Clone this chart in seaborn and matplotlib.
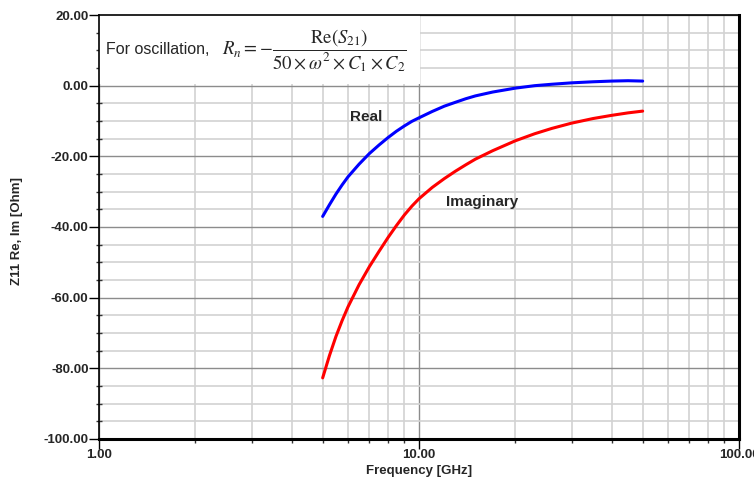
import numpy as np
import pandas as pd
import matplotlib
matplotlib.use("Agg")
import matplotlib.pyplot as plt
from matplotlib.ticker import FixedLocator, MultipleLocator, LogLocator, NullFormatter, FuncFormatter
from matplotlib.patches import Rectangle
import seaborn as sns

# Simulated input impedance of the oscillator vs. frequency
freq_ghz = [5.0, 5.25, 5.5, 5.75, 6.0, 6.5, 7.0, 7.5, 8.0, 8.5, 9.0, 9.5, 10.0, 11.0, 12.0, 13.0,
            14.0, 15.0, 17.0, 20.0, 23.0, 26.0, 30.0, 35.0, 40.0, 45.0, 50.0]
z11_real = [-37.0, -33.7, -30.7, -28.1, -25.8, -22.2, -19.2, -16.8, -14.7, -12.9, -11.4, -10.1, -9.1,
            -7.3, -5.8, -4.7, -3.7, -2.9, -1.8, -0.7, 0.0, 0.4, 0.8, 1.1, 1.3, 1.4, 1.3]
z11_imag = [-82.7, -76.4, -71.0, -66.5, -62.6, -56.3, -51.2, -46.9, -43.0, -39.6, -36.6, -34.1, -32.0,
            -28.8, -26.3, -24.2, -22.4, -20.8, -18.4, -15.6, -13.6, -12.1, -10.6, -9.3, -8.4, -7.7, -7.2]

x_major = [1.0, 10.0, 100.0]
y_major = [20.0, 0.0, -20.0, -40.0, -60.0, -80.0, -100.0]

df = pd.concat([
    pd.DataFrame({"f": freq_ghz, "z": z11_real, "part": "Real"}),
    pd.DataFrame({"f": freq_ghz, "z": z11_imag, "part": "Imaginary"}),
])

sns.set_style("white")
plt.rcParams["font.family"] = ["Liberation Sans", "DejaVu Sans"]
plt.rcParams["mathtext.fontset"] = "stix"

fig = plt.figure(figsize=(7.54, 4.83), dpi=100)
W, H = 754, 483
ax = fig.add_axes([99 / W, 1 - 439 / H, (739 - 99) / W, (439 - 15) / H])

sns.lineplot(data=df, x="f", y="z", hue="part", palette={"Real": "#0000ff", "Imaginary": "#ff0000"},
             linewidth=2.2, legend=False, ax=ax, zorder=3, sort=False, estimator=None)

ax.set_xscale("log")
ax.set_xlim(1, 100)
ax.set_ylim(-100, 20)

ax.xaxis.set_major_locator(FixedLocator(x_major))
ax.xaxis.set_minor_locator(LogLocator(base=10, subs=np.arange(2, 10)))
ax.xaxis.set_minor_formatter(NullFormatter())
ax.xaxis.set_major_formatter(FuncFormatter(lambda v, p: f"{v:.2f}"))
ax.yaxis.set_major_locator(FixedLocator(y_major))
ax.yaxis.set_minor_locator(MultipleLocator(5))
ax.yaxis.set_major_formatter(FuncFormatter(lambda v, p: f"{v:.2f}"))

ax.grid(which="major", color="#8c8c8c", linewidth=1.0)
ax.grid(which="minor", color="#d2d2d2", linewidth=1.2)
ax.set_axisbelow(True)

ax.tick_params(which="major", direction="out", length=7, width=1, color="black",
               labelsize=9.5, pad=0.5, left=True, bottom=True)
ax.tick_params(which="minor", axis="y", direction="inout", length=5, width=1, color="#333333", left=True)
ax.tick_params(which="minor", axis="x", direction="out", length=3, width=1, color="#333333", bottom=True)
for lab in ax.get_xticklabels() + ax.get_yticklabels():
    lab.set_fontweight("bold")

for side, lw in [("left", 1.2), ("top", 1.2), ("bottom", 2.2), ("right", 2.2)]:
    ax.spines[side].set_visible(True)
    ax.spines[side].set_color("black")
    ax.spines[side].set_linewidth(lw)

ax.set_xlabel("Frequency [GHz]", fontsize=9.5, fontweight="bold")
ax.set_ylabel("Z11 Re, Im [Ohm]", fontsize=9.5, fontweight="bold")
ax.xaxis.set_label_coords(0.5, -32 / 424, transform=ax.transAxes)
ax.yaxis.set_label_coords(-82 / 640, 0.49, transform=ax.transAxes)
ax.xaxis.label.set_va("center")
ax.yaxis.label.set_va("center")

# White panel behind the oscillation condition
to_data = ax.transData.inverted()
x0, y0 = to_data.transform((99, H - 84))
x1, y1 = to_data.transform((420, H - 15))
ax.add_patch(Rectangle((1, y0), x1 - 1, 20 - y0, facecolor="white", edgecolor="none", zorder=1))

fig.text(106 / W, 1 - 50 / H, "For oscillation,", fontsize=11.5, va="center", ha="left")
fig.text(222 / W, 1 - 51 / H,
         r"$R_n = -\dfrac{\mathrm{Re}\left(S_{21}\right)}{50\times\omega^2\times C_1\times C_2}$",
         fontsize=13.5, va="center", ha="left")

ax.text(6.84, -8.8, "Real", fontsize=11, fontweight="bold", ha="center", va="center")
ax.text(15.8, -32.8, "Imaginary", fontsize=11, fontweight="bold", ha="center", va="center")

fig.savefig("out.png", dpi=100, facecolor="white")
